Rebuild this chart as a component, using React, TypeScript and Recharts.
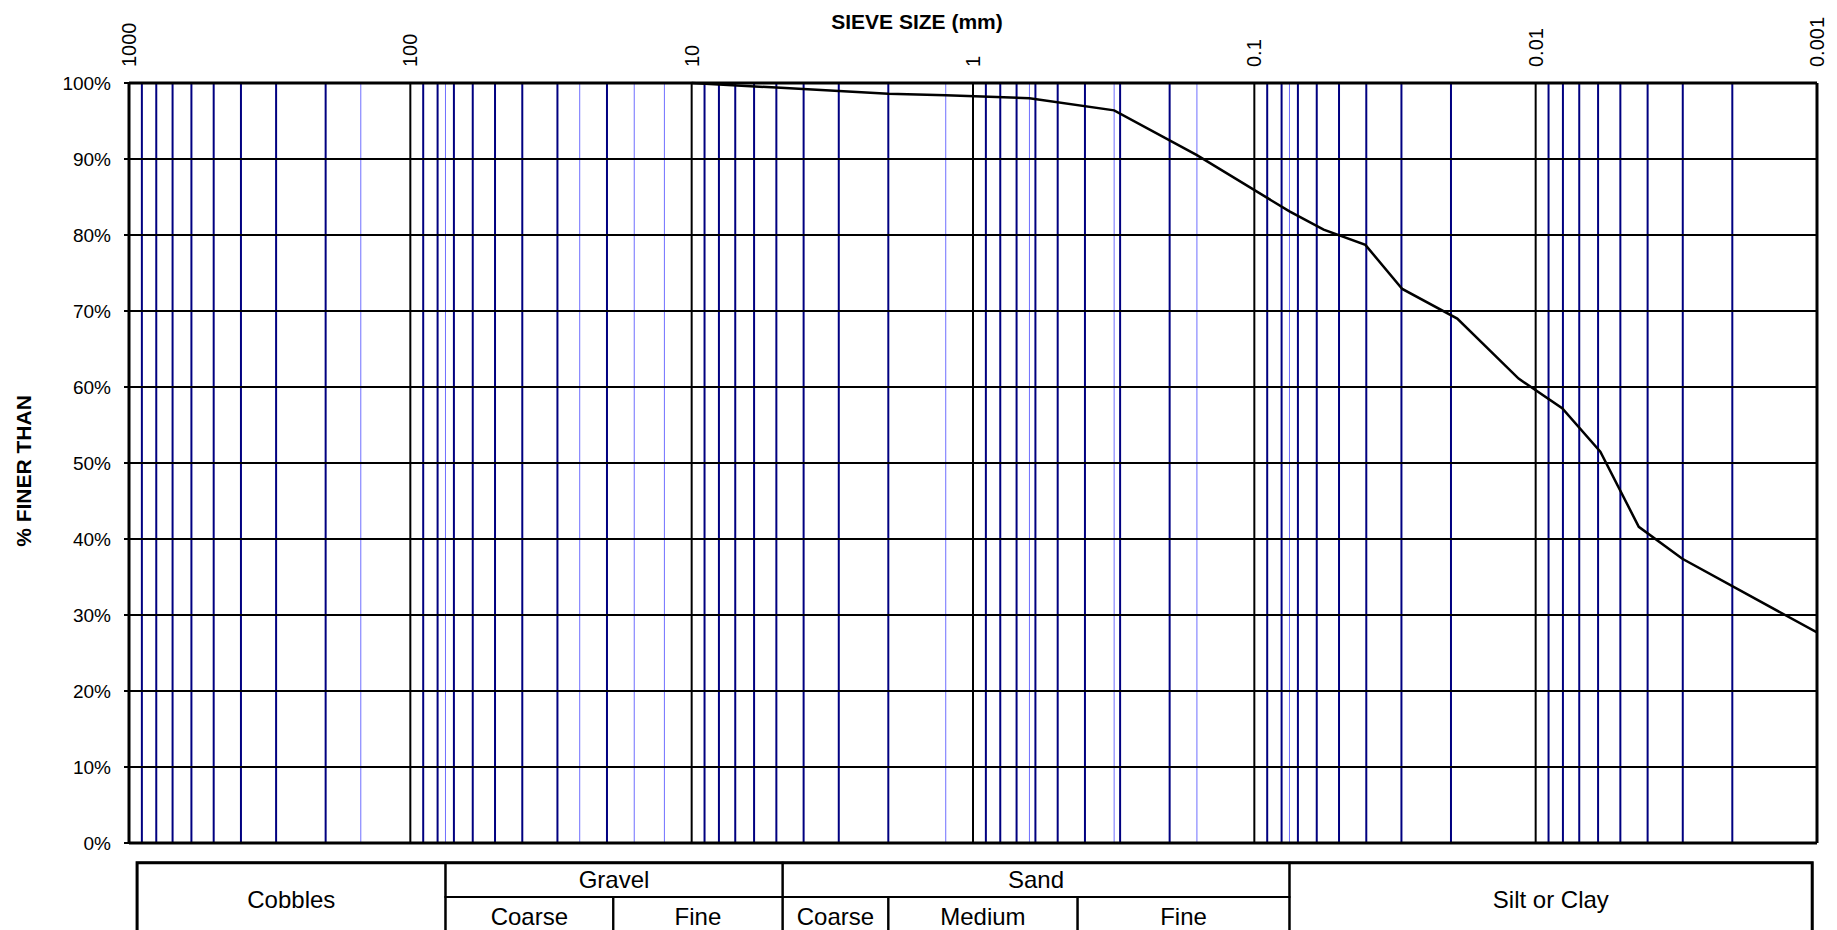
import React from 'react'
import {
  LineChart,
  Line,
  XAxis,
  YAxis,
  ReferenceLine,
  ReferenceArea,
} from 'recharts'

// measured curve (sieve + hydrometer)
const sieveSizes = [10, 5, 2, 1.25, 0.63, 0.315, 0.16, 0.075, 0.0567, 0.0403, 0.0298, 0.019, 0.0115, 0.00805, 0.00589, 0.0043, 0.00301, 0.001]
const percentFiner = [100, 99.4, 98.6, 98.4, 98.0, 96.4, 90.5, 83.1, 80.7, 78.7, 72.9, 69.0, 61.1, 57.2, 51.5, 41.6, 37.4, 27.7]

// axis ticks
const decadeTicks = [1000, 100, 10, 1, 0.1, 0.01, 0.001]
const percentTicks = [0, 10, 20, 30, 40, 50, 60, 70, 80, 90, 100]

// grid lines
const minorLines = [
  900, 800, 700, 600, 500, 400, 300, 200,
  90, 80, 70, 60, 50, 40, 30, 20,
  9, 8, 7, 6, 5, 4, 3, 2,
  0.9, 0.8, 0.7, 0.6, 0.5, 0.4, 0.3, 0.2,
  0.09, 0.08, 0.07, 0.06, 0.05, 0.04, 0.03, 0.02,
  0.009, 0.008, 0.007, 0.006, 0.005, 0.004, 0.003, 0.002,
]
const standardSieves = [150, 75, 25, 16, 12.5, 1.25, 0.63, 0.315, 0.16, 0.075]

// soil classification table under the plot
const classNames = ['Cobbles', 'Gravel', 'Coarse', 'Fine', 'Sand', 'Coarse', 'Medium', 'Fine', 'Silt or Clay']
const classFrom = [936, 75, 75, 19, 4.75, 4.75, 2, 0.425, 0.075]
const classTo = [75, 4.75, 19, 4.75, 0.075, 2, 0.425, 0.075, 0.00104]
const classRow = ['both', 'top', 'bottom', 'bottom', 'top', 'bottom', 'bottom', 'bottom', 'both']

const data = sieveSizes.map((size, i) => ({ size, finer: percentFiner[i] }))

const NAVY = '#000080'
const LIGHT = '#6f6fff'

const TABLE_TOP = -2.6
const TABLE_MID = -7.1
const TABLE_BOTTOM = -12.3

const TopTick = ({ x, y, payload }: any) => (
  <text
    x={x}
    y={y}
    transform={`rotate(-90 ${x} ${y})`}
    textAnchor="start"
    dominantBaseline="central"
    fontSize={20}
    fill="#000"
  >
    {String(payload.value)}
  </text>
)

const XTitle = ({ viewBox }: any) => (
  <text
    x={viewBox.x + viewBox.width / 2 - 56}
    y={viewBox.y + 6}
    textAnchor="middle"
    fontSize={21}
    fontWeight="bold"
    fill="#000"
  >
    SIEVE SIZE (mm)
  </text>
)

const YTitle = ({ viewBox }: any) => {
  const cx = viewBox.x + 23
  const cy = viewBox.y + viewBox.height / 2 + 8
  return (
    <text
      x={cx}
      y={cy}
      transform={`rotate(-90 ${cx} ${cy})`}
      textAnchor="middle"
      dominantBaseline="central"
      fontSize={21}
      fontWeight="bold"
      fill="#000"
    >
      % FINER THAN
    </text>
  )
}

export default function App() {
  return (
    <div
      style={{
        position: 'absolute',
        left: 0,
        top: 0,
        width: 1837,
        height: 930,
        background: '#fff',
        fontFamily: "'Liberation Sans', Arial, sans-serif",
      }}
    >
      <LineChart
        width={1837}
        height={930}
        data={data}
        margin={{ top: 23, right: 20, bottom: 87, left: 0 }}
      >
        <XAxis
          dataKey="size"
          type="number"
          scale="log"
          domain={[0.001, 1000]}
          reversed
          allowDataOverflow
          orientation="top"
          height={60}
          ticks={decadeTicks}
          interval={0}
          tick={<TopTick />}
          tickLine={false}
          tickSize={0}
          tickMargin={16}
          axisLine={{ stroke: '#000', strokeWidth: 3 }}
          label={{ content: <XTitle /> }}
        />
        <YAxis
          type="number"
          domain={[0, 100]}
          ticks={percentTicks}
          interval={0}
          width={129}
          tickSize={5}
          tickMargin={13}
          tickFormatter={(v) => `${v}%`}
          tick={{ fill: '#000', fontSize: 19 }}
          tickLine={{ stroke: '#000', strokeWidth: 2 }}
          axisLine={{ stroke: '#000', strokeWidth: 3 }}
          label={{ content: <YTitle /> }}
        />

        {standardSieves.map((s) => (
          <ReferenceLine key={`s${s}`} x={s} stroke={LIGHT} strokeWidth={1} />
        ))}
        {minorLines.map((s) => (
          <ReferenceLine key={`m${s}`} x={s} stroke={NAVY} strokeWidth={2} />
        ))}
        {decadeTicks.map((s) => (
          <ReferenceLine key={`d${s}`} x={s} stroke="#000" strokeWidth={s === 0.001 ? 3 : 2} />
        ))}
        {percentTicks.map((p) => (
          <ReferenceLine key={`h${p}`} y={p} stroke="#000" strokeWidth={p === 0 ? 3 : 2} />
        ))}

        {classNames.map((name, i) => (
          <ReferenceArea
            key={`c${i}`}
            x1={classFrom[i]}
            x2={classTo[i]}
            y1={classRow[i] === 'bottom' ? TABLE_MID : TABLE_TOP}
            y2={classRow[i] === 'top' ? TABLE_MID : TABLE_BOTTOM}
            ifOverflow="visible"
            fill="none"
            stroke="#000"
            strokeWidth={2}
            label={{ value: name, position: 'center', fontSize: 24, fill: '#000' }}
          />
        ))}
        <ReferenceArea
          x1={classFrom[0]}
          x2={classTo[classTo.length - 1]}
          y1={TABLE_TOP}
          y2={TABLE_BOTTOM}
          ifOverflow="visible"
          fill="none"
          stroke="#000"
          strokeWidth={3}
        />

        <Line
          type="linear"
          dataKey="finer"
          stroke="#000"
          strokeWidth={2.5}
          dot={false}
          activeDot={false}
          isAnimationActive={false}
        />
      </LineChart>
    </div>
  )
}
